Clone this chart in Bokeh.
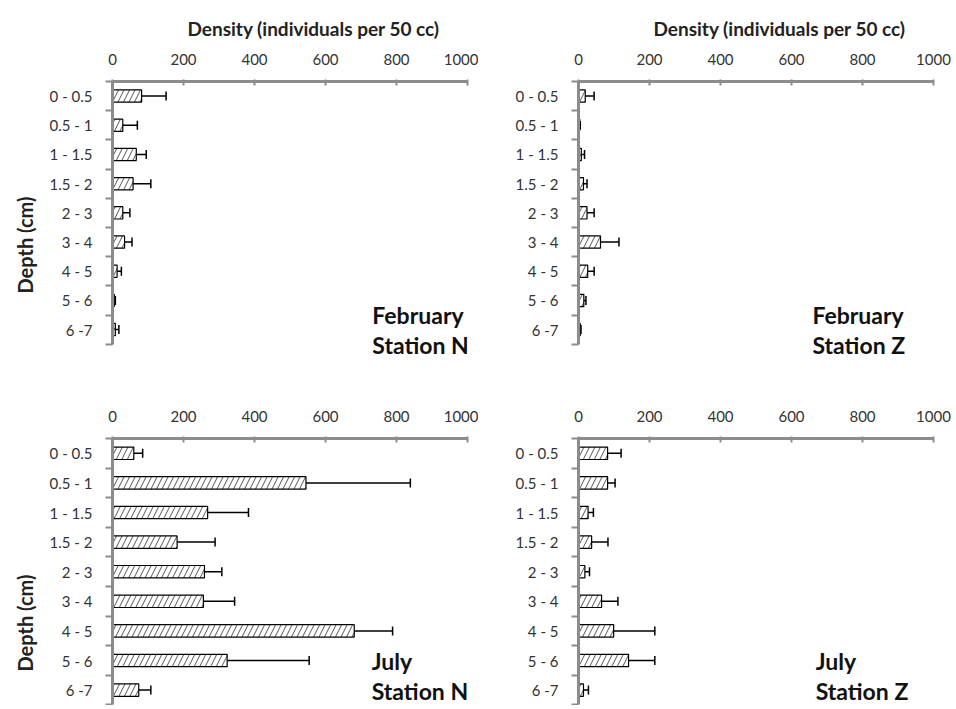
from bokeh.plotting import figure
from bokeh.models import (Range1d, FixedTicker, Whisker, TeeHead, ColumnDataSource,
                          Label, Title)
from bokeh.layouts import column, row
from bokeh.embed import file_html
from bokeh.resources import INLINE

# ---------------- data ----------------
depths = ["0 - 0.5", "0.5 - 1", "1 - 1.5", "1.5 - 2", "2 - 3", "3 - 4", "4 - 5", "5 - 6", "6 -7"]
x_ticks = [0, 200, 400, 600, 800, 1000]

feb_N = [82, 29, 67, 58, 29, 34, 13, 5, 8]
feb_N_err = [69, 41, 28, 50, 20, 21, 12, 3, 10]
feb_Z = [19, 3, 8, 14, 24, 62, 26, 15, 5]
feb_Z_err = [25, 2, 9, 10, 20, 52, 18, 6, 2]
jul_N = [60, 545, 268, 182, 259, 256, 681, 323, 74]
jul_N_err = [25, 294, 115, 107, 49, 88, 108, 231, 34]
jul_Z = [82, 82, 27, 37, 18, 65, 99, 141, 14]
jul_Z_err = [38, 21, 15, 46, 13, 46, 116, 74, 14]

FONT = "Lato"
AXIS_GREY = "#8c8c8c"
TEXT = "#333333"


def panel(vals, errs, line1, line2, lab_x, lab_y1, lab_y2, depth_offset,
          density_title, frame_h, y_bottom, border_top, border_bottom, border_left, border_right):
    ys = list(range(len(depths)))
    src = ColumnDataSource(dict(y=ys, v=vals, lo=vals,
                                hi=[v + e for v, e in zip(vals, errs)]))
    p = figure(frame_width=355, frame_height=frame_h,
               x_range=Range1d(0, 1000), y_range=Range1d(y_bottom, -0.5),
               x_axis_location="above", output_backend="svg", toolbar_location=None,
               min_border_top=border_top, min_border_bottom=border_bottom,
               min_border_left=border_left, min_border_right=border_right)
    p.outline_line_color = None
    p.grid.visible = False
    p.background_fill_color = "white"

    p.hbar(y="y", left=0, right="v", height=0.42, source=src,
           fill_color="white", line_color="black", line_width=1.2,
           hatch_pattern="/", hatch_color="#555555", hatch_scale=11, hatch_weight=1)
    w = Whisker(base="y", lower="lo", upper="hi", dimension="width", source=src,
                line_color="black", line_width=1.5,
                upper_head=TeeHead(size=9, line_color="black", line_width=1.5),
                lower_head=None)
    p.add_layout(w)

    xa = p.xaxis[0]
    xa.ticker = FixedTicker(ticks=x_ticks)
    xa.axis_line_color = AXIS_GREY
    xa.axis_line_width = 3
    xa.major_tick_line_color = AXIS_GREY
    xa.major_tick_line_width = 2
    xa.major_tick_in = 4
    xa.major_tick_out = 2
    xa.minor_tick_line_color = None
    xa.major_label_text_font = FONT
    xa.major_label_text_font_size = "15px"
    xa.major_label_text_color = TEXT
    xa.major_label_standoff = 15

    ya = p.yaxis[0]
    ya.ticker = FixedTicker(ticks=ys, minor_ticks=[i - 0.5 for i in range(len(depths) + 1)])
    ya.bounds = (-0.5, len(depths) - 0.5)
    ya.major_label_overrides = {i: d for i, d in enumerate(depths)}
    ya.axis_line_color = AXIS_GREY
    ya.axis_line_width = 3
    ya.major_tick_line_color = None
    ya.major_tick_out = 0
    ya.major_tick_in = 0
    ya.minor_tick_line_color = AXIS_GREY
    ya.minor_tick_line_width = 2
    ya.minor_tick_out = 7
    ya.minor_tick_in = 0
    ya.major_label_text_font = FONT
    ya.major_label_text_font_size = "15px"
    ya.major_label_text_color = TEXT
    ya.major_label_standoff = 13

    if density_title:
        t = Title(text="Density (individuals per 50 cc)", align="left", offset=75,
                  standoff=22, text_font=FONT,
                  text_font_size="19px", text_font_style="bold", text_color="#222222")
        p.add_layout(t, "above")
    if depth_offset is not None:
        t = Title(text="Depth (cm)", align="right", offset=depth_offset,
                  standoff=16, vertical_align="top", text_font=FONT,
                  text_font_size="20px", text_font_style="bold", text_color="#222222")
        p.add_layout(t, "left")

    for txt, yy in ((line1, lab_y1), (line2, lab_y2)):
        p.add_layout(Label(x=lab_x, y=yy, text=txt, text_font=FONT, text_font_size="23px",
                           text_font_style="bold", text_color="#111111",
                           text_align="left", text_baseline="alphabetic"))
    return p


# top row: 29.2 px per band, frame extended below the axis so the caption fits
p1 = panel(feb_N, feb_N_err, "February", "Station N", 732, 7.50, 8.52, 115, True,
           284, 9.23, 81, 33, 112, 11)
p2 = panel(feb_Z, feb_Z_err, "February", "Station Z", 659, 7.50, 8.52, None, True,
           284, 9.23, 81, 33, 100, 20)
# bottom row: 29.6 px per band
p3 = panel(jul_N, jul_N_err, "July", "Station N", 730, 7.02, 8.02, 136, False,
           267, 8.52, 40, 0, 112, 11)
p4 = panel(jul_Z, jul_Z_err, "July", "Station Z", 668, 7.02, 8.02, None, False,
           267, 8.52, 40, 0, 100, 20)

layout = column(row(p1, p2, spacing=0), row(p3, p4, spacing=0), spacing=0)

open("out.html", "w").write(file_html(layout, INLINE))
